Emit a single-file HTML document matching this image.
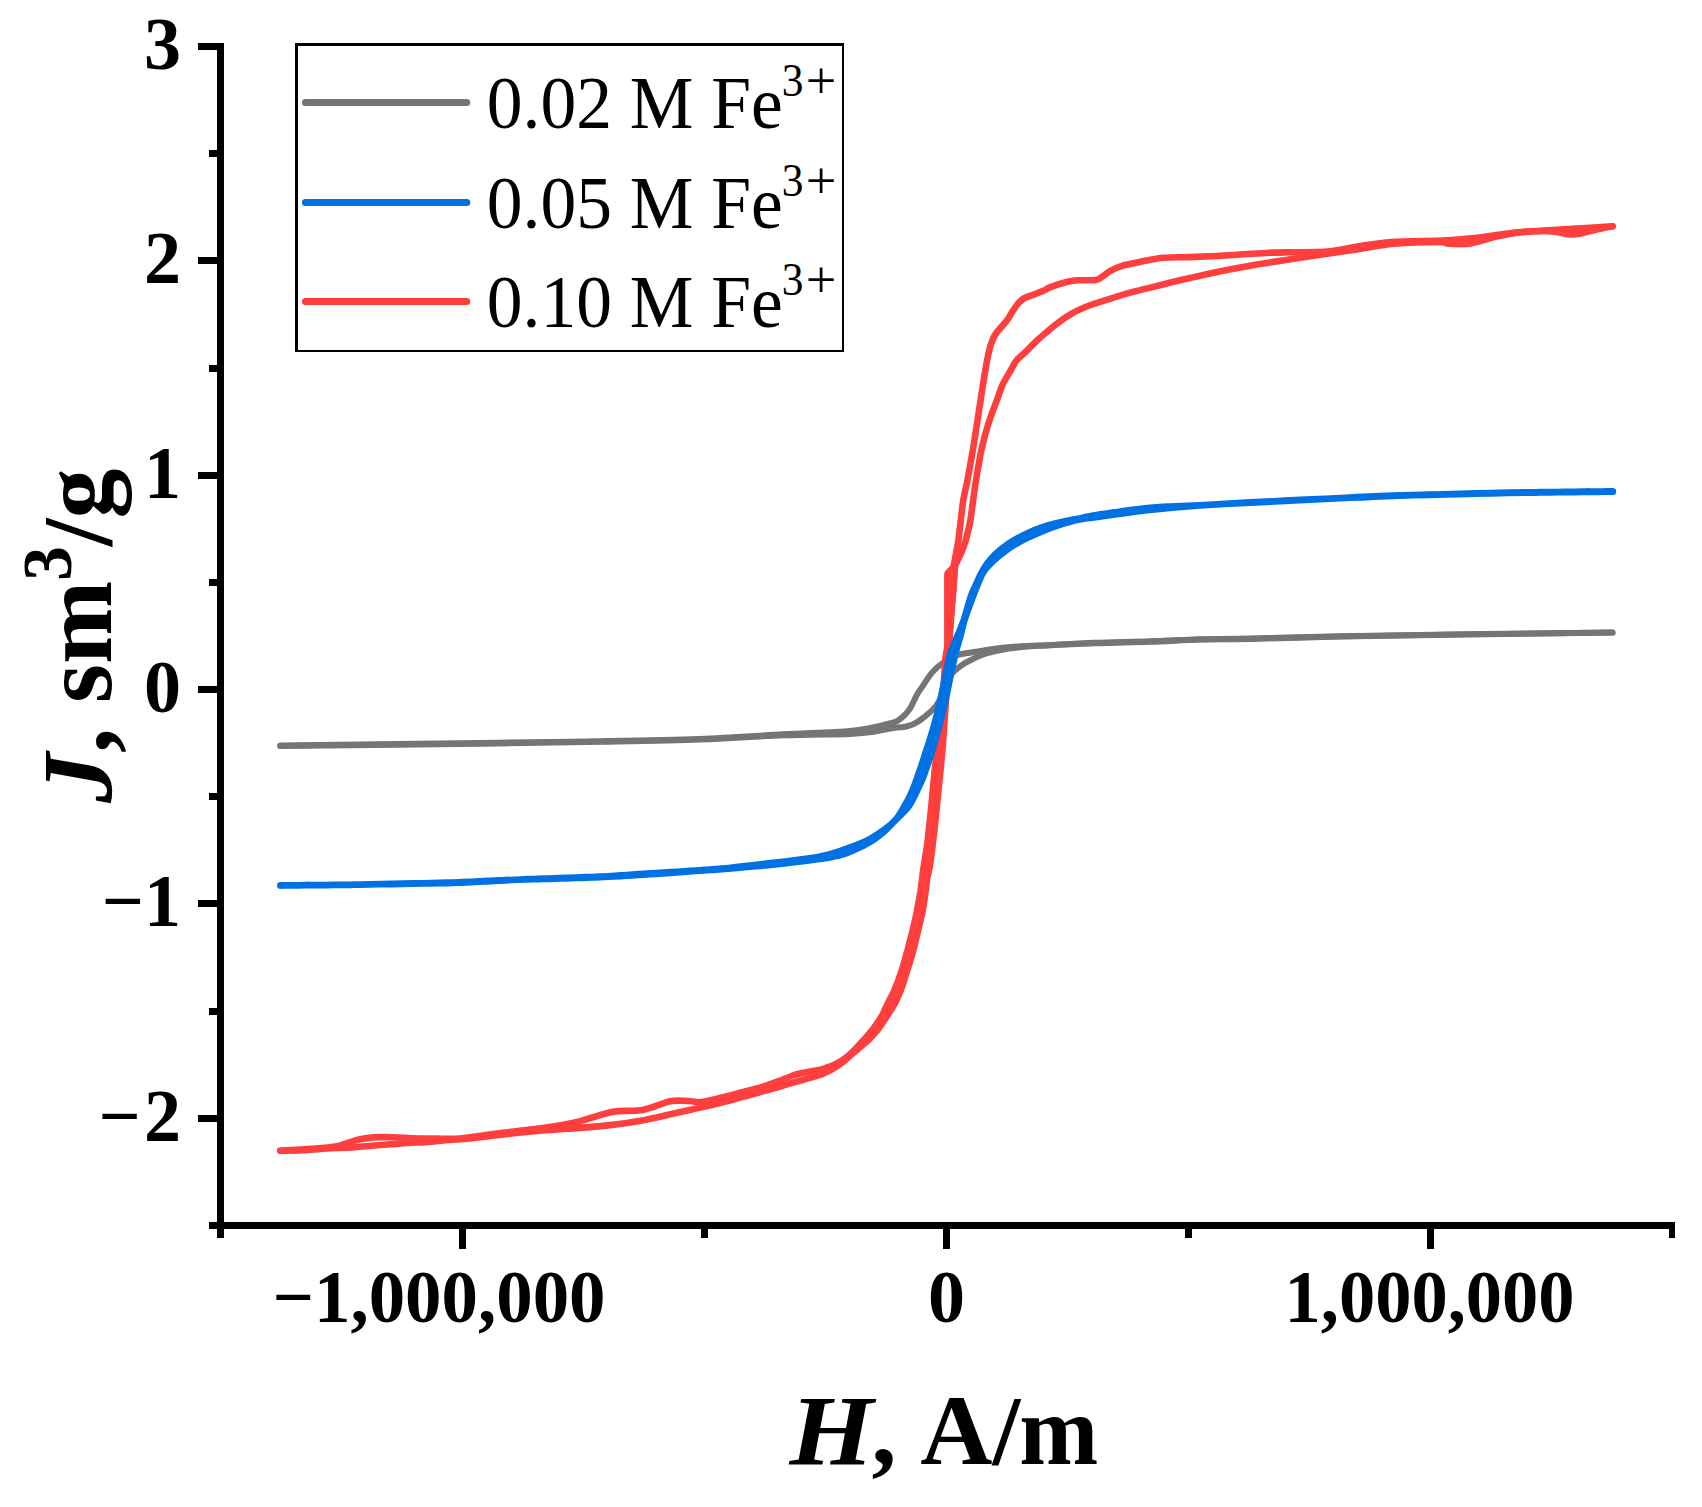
<!DOCTYPE html>
<html><head><meta charset="utf-8"><title>Magnetization curves</title>
<style>
html,body{margin:0;padding:0;background:#fff;}
svg{display:block;}
text{font-family:"Liberation Serif","Times New Roman",serif;fill:#000;}
.tk{font-size:74px;font-weight:bold;}
.ti{font-size:100px;font-weight:bold;}
.lg{font-size:74px;}
</style></head>
<body>
<svg width="1702" height="1507" viewBox="0 0 1702 1507">
<rect width="1702" height="1507" fill="#fff"/>
<!-- CURVES -->
<g id="curves" fill="none" stroke-linejoin="round" stroke-linecap="round" stroke-width="5">
<g stroke="#757575" stroke-width="6">
<path d="M280.3,745.5C316.9,745.1 446.7,743.4 500.0,742.7C553.3,742.0 566.7,741.8 600.0,741.2C633.3,740.6 669.5,740.0 700.0,738.9C730.5,737.8 758.0,735.6 783.0,734.3C808.0,733.0 834.9,732.1 850.0,730.9C865.1,729.7 866.9,728.6 873.9,727.3C880.9,726.0 887.8,724.1 891.8,723.0C895.8,721.9 895.8,721.8 897.8,720.6C899.8,719.4 901.8,717.8 903.7,716.0C905.6,714.2 907.7,711.7 909.2,709.7C910.7,707.7 911.5,705.7 912.5,703.8C913.5,701.8 914.4,699.8 915.4,697.8C916.4,695.8 917.5,693.8 918.7,691.8C920.0,689.8 921.6,687.8 922.9,685.8C924.2,683.8 925.4,681.9 926.7,679.9C928.1,677.9 929.3,675.9 931.0,673.9C932.7,671.9 934.7,669.8 936.7,667.9C938.7,666.0 941.0,664.4 943.2,662.8C945.4,661.2 947.4,659.6 950.0,658.3C952.6,656.9 954.6,655.8 958.8,654.7C963.0,653.6 969.6,652.8 975.3,651.8C981.0,650.8 987.0,649.7 992.9,648.9C998.8,648.1 1004.6,647.6 1010.5,647.1C1016.4,646.6 1023.2,646.2 1028.1,645.9C1033.0,645.6 1028.9,646.0 1040.0,645.5C1051.1,645.0 1076.2,643.5 1094.5,642.8C1112.8,642.1 1132.4,641.9 1150.0,641.3C1167.6,640.7 1183.3,639.7 1200.0,639.2C1216.7,638.8 1226.5,639.1 1250.0,638.6C1273.5,638.1 1305.5,636.9 1341.3,636.2C1377.1,635.5 1419.5,634.8 1464.7,634.2C1509.9,633.6 1587.9,632.9 1612.5,632.6"/>
<path d="M280.3,746.1C316.9,745.7 446.7,744.1 500.0,743.4C553.3,742.7 566.7,742.4 600.0,741.8C633.3,741.2 669.5,740.7 700.0,739.6C730.5,738.5 758.0,736.2 783.0,735.3C808.0,734.3 834.9,734.5 850.0,733.9C865.1,733.3 866.9,732.8 873.9,731.8C880.9,730.8 886.8,729.0 891.8,728.2C896.8,727.4 900.7,727.4 903.7,727.0C906.7,726.6 907.7,726.2 909.7,725.5C911.7,724.9 913.7,724.0 915.7,722.9C917.7,721.8 919.7,720.5 921.7,719.0C923.7,717.5 925.6,715.9 927.6,714.2C929.6,712.5 932.0,710.5 933.6,708.8C935.2,707.1 935.6,706.5 937.2,704.0C938.8,701.5 941.3,697.3 943.0,694.0C944.7,690.7 946.1,687.3 947.5,684.0C948.9,680.7 950.1,676.4 951.5,674.1C952.9,671.8 954.0,671.5 955.7,670.0C957.4,668.5 959.9,666.5 961.9,665.1C963.9,663.7 966.0,662.6 968.0,661.5C970.0,660.3 971.1,659.7 974.1,658.4C977.1,657.0 982.1,654.8 986.1,653.5C990.1,652.2 994.1,651.4 998.2,650.5C1002.3,649.7 1005.5,649.1 1010.5,648.4C1015.5,647.7 1023.2,646.8 1028.1,646.4C1033.0,646.0 1028.9,646.2 1040.0,645.7C1051.1,645.2 1076.2,643.9 1094.5,643.3C1112.8,642.6 1132.4,642.4 1150.0,641.8C1167.6,641.2 1183.3,640.0 1200.0,639.5C1216.7,639.0 1226.5,639.4 1250.0,638.9C1273.5,638.4 1305.5,637.2 1341.3,636.5C1377.1,635.8 1419.5,635.0 1464.7,634.4C1509.9,633.8 1587.9,632.9 1612.5,632.6"/>
</g>
<g stroke="#ff3e3e" stroke-width="6.6">
<path d="M280.3,1150.7C283.1,1150.6 295.9,1149.9 301.0,1149.6C306.1,1149.3 314.0,1148.8 318.8,1148.4C323.6,1148.0 332.6,1147.2 336.8,1146.3C340.9,1145.5 347.3,1143.0 350.3,1142.1C353.2,1141.1 355.7,1140.2 358.8,1139.5C361.8,1138.9 368.7,1137.7 373.3,1137.4C377.9,1137.1 387.9,1137.1 393.3,1137.2C398.8,1137.3 408.6,1138.1 414.3,1138.3C420.0,1138.5 430.3,1138.6 436.4,1138.6C442.5,1138.6 452.2,1139.1 460.1,1138.5C467.9,1137.8 484.4,1135.2 495.4,1133.8C506.4,1132.4 531.7,1129.6 542.5,1128.1C553.2,1126.5 569.2,1123.8 576.0,1122.3C582.8,1120.8 588.7,1118.4 593.8,1117.0C598.9,1115.5 607.9,1112.4 614.5,1111.5C621.0,1110.5 635.3,1111.4 642.8,1110.0C650.3,1108.7 664.5,1102.3 671.0,1101.1C677.5,1100.0 687.7,1101.0 691.5,1101.2C695.2,1101.3 695.5,1102.6 698.9,1102.3C702.3,1102.0 709.9,1100.4 717.1,1098.7C724.2,1097.0 746.6,1091.1 752.3,1089.6C758.0,1088.1 756.3,1088.9 759.8,1087.7C763.3,1086.6 774.4,1082.7 778.7,1081.1C783.1,1079.5 789.7,1076.6 792.8,1075.5C795.9,1074.4 798.7,1073.7 801.8,1073.0C804.9,1072.3 812.7,1071.1 815.9,1070.4C819.0,1069.8 823.0,1068.9 825.6,1068.0C828.2,1067.2 832.8,1065.4 835.5,1064.1C838.1,1062.7 842.8,1060.1 845.4,1058.1C848.0,1056.2 852.6,1051.9 855.1,1049.3C857.7,1046.8 862.1,1041.8 864.7,1038.9C867.2,1035.9 871.9,1030.4 874.2,1027.4C876.5,1024.3 880.6,1018.0 881.9,1015.8C883.3,1013.6 883.4,1012.8 884.3,1010.9C885.2,1009.0 887.3,1004.1 888.7,1001.5C890.0,998.8 892.4,995.0 894.1,990.9C895.9,986.8 900.0,976.0 901.7,970.6C903.5,965.3 905.9,955.9 907.4,950.6C908.8,945.2 911.3,935.9 912.6,930.6C913.9,925.2 916.0,915.9 917.0,910.5C918.1,905.2 919.9,894.5 920.6,890.5C921.2,886.5 921.5,883.1 921.9,880.4C922.2,877.7 922.4,875.5 923.2,870.3C923.9,865.0 926.5,849.8 927.6,841.0C928.7,832.2 930.5,814.2 931.5,804.4C932.5,794.7 933.8,778.5 934.9,767.9C936.0,757.4 938.6,736.6 939.8,725.3C941.0,714.1 943.1,692.0 943.8,683.3C944.5,674.6 944.7,665.0 945.2,660.0C945.7,655.0 947.0,649.6 947.6,646.0C948.2,642.4 948.9,638.0 949.4,632.7C949.9,627.4 951.0,613.1 951.6,606.0C952.2,598.9 953.4,584.9 953.8,579.6C954.2,574.3 954.4,569.5 954.7,566.0C955.0,562.5 955.7,556.5 956.2,553.0C956.7,549.5 957.9,544.2 958.5,539.8C959.1,535.4 960.2,525.3 960.8,520.0C961.4,514.7 962.4,505.3 963.3,500.0C964.2,494.7 966.2,486.7 967.5,480.0C968.8,473.3 971.5,457.7 972.9,449.7C974.2,441.7 976.6,426.5 977.6,419.9C978.6,413.3 979.7,405.6 980.6,400.0C981.5,394.4 983.3,382.5 984.1,377.6C984.9,372.7 985.9,366.9 986.6,363.0C987.3,359.1 988.8,351.8 989.7,348.4C990.6,345.0 992.8,339.5 993.7,337.4C994.6,335.3 995.5,334.1 996.5,332.7C997.5,331.3 999.8,328.9 1001.2,327.2C1002.6,325.5 1005.8,321.9 1007.3,319.9C1008.8,317.9 1010.7,314.1 1012.2,311.9C1013.7,309.7 1016.7,305.0 1018.4,303.1C1020.1,301.2 1022.3,299.2 1024.6,298.0C1026.9,296.8 1033.0,294.9 1035.6,293.9C1038.2,292.9 1041.9,291.5 1043.9,290.6C1045.9,289.7 1047.3,288.4 1050.4,287.2C1053.5,286.0 1063.7,282.7 1067.4,281.8C1071.1,280.9 1074.3,280.5 1078.1,280.3C1081.9,280.1 1092.8,280.6 1096.1,280.1C1099.4,279.6 1100.7,277.7 1102.5,276.5C1104.3,275.3 1107.5,272.6 1109.9,271.2C1112.3,269.8 1116.2,267.6 1120.5,266.3C1124.8,265.0 1136.1,262.7 1141.8,261.6C1147.5,260.5 1155.9,258.4 1163.0,257.8C1170.1,257.2 1185.0,257.3 1194.9,256.9C1204.8,256.5 1227.5,255.4 1237.4,254.8C1247.3,254.2 1262.3,253.0 1269.2,252.7C1276.1,252.4 1281.3,252.4 1289.0,252.3C1296.7,252.2 1317.5,252.4 1327.0,251.6C1336.5,250.8 1351.6,247.3 1360.5,246.0C1369.4,244.7 1383.0,242.5 1394.0,241.8C1405.0,241.1 1432.6,241.0 1443.0,240.5C1453.4,240.0 1463.7,239.3 1472.0,238.4C1480.3,237.5 1498.1,234.7 1505.6,233.8C1513.1,232.9 1519.1,232.2 1528.0,231.5C1536.9,230.8 1561.3,229.5 1572.6,228.8C1583.9,228.1 1607.3,226.6 1612.6,226.3"/>
<path d="M280.3,1150.7C283.3,1150.6 297.2,1150.4 302.5,1150.2C307.8,1150.0 315.2,1149.2 320.0,1148.9C324.8,1148.6 333.8,1148.2 338.5,1148.0C343.2,1147.8 350.9,1147.4 355.3,1147.1C359.6,1146.8 367.2,1146.1 371.0,1145.8C374.9,1145.5 380.8,1145.0 384.4,1144.7C387.9,1144.4 394.0,1144.1 397.6,1143.8C401.1,1143.5 407.2,1142.9 410.8,1142.7C414.4,1142.5 420.9,1142.4 424.8,1142.1C428.6,1141.9 435.6,1141.2 439.7,1140.8C443.8,1140.5 451.8,1139.7 455.5,1139.4C459.3,1139.1 462.7,1139.1 467.9,1138.6C473.1,1138.1 484.8,1136.5 494.6,1135.4C504.5,1134.3 531.0,1131.5 541.7,1130.5C552.4,1129.5 565.9,1128.8 575.0,1128.1C584.2,1127.4 600.8,1126.2 610.1,1125.1C619.5,1124.0 635.8,1121.6 645.2,1119.9C654.5,1118.1 670.9,1114.1 680.3,1112.0C689.7,1109.9 707.7,1106.0 715.5,1104.1C723.4,1102.2 733.5,1099.4 739.1,1097.9C744.8,1096.4 752.9,1094.1 757.9,1092.7C762.9,1091.3 771.7,1089.0 776.7,1087.5C781.7,1086.1 790.5,1083.4 795.5,1081.9C800.5,1080.5 810.5,1077.9 814.2,1076.7C818.0,1075.6 820.9,1074.6 823.3,1073.6C825.7,1072.5 829.9,1070.4 832.4,1069.0C834.8,1067.7 839.0,1065.0 841.4,1063.2C843.9,1061.3 848.2,1057.4 850.7,1055.3C853.1,1053.2 857.5,1049.5 860.0,1047.3C862.5,1045.2 866.8,1041.5 869.3,1039.1C871.7,1036.6 875.9,1032.2 878.4,1029.0C880.8,1025.8 885.4,1018.6 887.6,1015.1C889.8,1011.7 893.1,1006.7 895.0,1003.2C896.8,999.6 899.8,993.1 901.5,988.4C903.2,983.8 906.2,973.9 907.8,968.6C909.5,963.3 912.3,954.1 913.7,948.8C915.1,943.6 917.3,934.3 918.5,929.1C919.7,923.8 921.9,914.6 922.9,909.3C923.8,904.0 925.3,893.5 925.8,889.5C926.4,885.6 926.4,883.1 927.0,879.4C927.7,875.8 929.5,869.2 930.5,862.0C931.6,854.8 933.7,836.3 934.9,825.6C936.1,815.0 938.3,791.6 939.3,781.9C940.3,772.1 941.5,760.5 942.2,752.7C942.9,744.9 943.9,730.4 944.4,723.6C944.9,716.8 945.5,707.5 945.8,701.7C946.2,695.9 946.7,685.6 947.0,680.0C947.3,674.4 947.9,664.5 948.2,660.0C948.5,655.5 949.0,649.6 949.2,646.0C949.4,642.4 949.6,638.0 950.0,632.7C950.4,627.4 951.4,613.1 952.0,606.0C952.6,598.9 953.8,584.9 954.2,579.6C954.6,574.3 954.3,569.5 955.2,566.0C956.1,562.5 959.8,556.5 961.2,553.0C962.6,549.5 964.6,544.2 965.8,539.8C967.0,535.4 969.2,527.2 970.4,520.1C971.6,513.0 973.7,495.4 975.0,486.7C976.3,478.0 979.1,461.8 980.4,454.9C981.7,448.0 983.9,439.5 985.1,434.8C986.3,430.1 988.3,423.9 989.6,419.9C990.9,415.9 994.1,407.6 995.1,404.9C996.1,402.2 996.0,402.7 997.0,400.0C998.0,397.3 1000.7,388.9 1002.5,384.9C1004.3,380.9 1009.1,373.2 1010.7,370.3C1012.3,367.4 1013.6,365.0 1014.5,363.5C1015.4,362.0 1016.2,360.5 1017.7,359.0C1019.2,357.5 1023.5,353.9 1025.5,352.0C1027.5,350.1 1031.1,346.3 1033.0,344.4C1034.9,342.5 1036.9,340.5 1039.8,338.0C1042.7,335.5 1050.4,328.6 1054.7,325.3C1059.0,322.0 1067.2,316.2 1071.7,313.6C1076.2,311.0 1083.6,307.8 1088.7,305.8C1093.8,303.8 1104.2,300.6 1109.9,298.8C1115.6,297.0 1125.4,294.0 1131.1,292.4C1136.8,290.8 1146.7,288.5 1152.4,287.1C1158.1,285.7 1167.9,283.2 1173.6,281.8C1179.3,280.4 1189.2,278.2 1194.9,276.9C1200.6,275.6 1210.4,273.4 1216.1,272.2C1221.8,271.0 1231.5,269.1 1237.4,268.0C1243.3,266.9 1252.5,265.1 1260.0,263.9C1267.5,262.7 1281.6,260.6 1293.5,258.8C1305.4,257.0 1335.9,252.5 1349.3,250.5C1362.7,248.5 1382.1,244.9 1394.0,243.8C1405.9,242.7 1431.2,242.0 1438.6,242.0C1446.0,242.0 1445.6,243.6 1449.8,243.8C1454.0,244.0 1464.0,244.3 1469.9,243.4C1475.8,242.5 1488.1,238.5 1494.4,237.1C1500.7,235.7 1509.4,233.4 1516.8,232.6C1524.2,231.8 1543.4,230.9 1550.2,231.1C1557.0,231.3 1564.2,233.8 1568.1,234.2C1572.0,234.6 1575.7,234.4 1579.3,233.8C1582.9,233.2 1590.5,231.0 1594.9,230.0C1599.3,229.0 1610.2,226.8 1612.6,226.3"/>
<path d="M947.4,689.0L947.4,573.5L953.5,567.0L956.2,553.0" stroke-linejoin="bevel" stroke-linecap="butt"/>
<path d="M861.1,1045.0C862.4,1043.7 868.2,1037.7 870.5,1035.0C872.8,1032.3 876.1,1028.3 878.4,1025.0C880.7,1021.7 885.6,1014.0 887.9,1010.0C890.1,1006.0 893.5,999.0 895.3,995.0C897.0,991.0 899.5,984.7 901.2,980.0C902.8,975.3 906.0,965.3 907.6,960.0C909.1,954.7 911.6,945.3 913.0,940.0C914.3,934.7 916.6,925.3 917.7,920.0C918.9,914.7 920.7,905.3 921.6,900.0C922.5,894.7 923.6,885.3 924.5,880.0C925.3,874.7 926.9,865.3 927.7,860.0C928.5,854.7 929.8,845.3 930.4,840.0C931.1,834.7 932.1,825.3 932.7,820.0C933.2,814.7 934.2,805.3 934.7,800.0C935.2,794.7 936.1,785.3 936.6,780.0C937.2,774.7 938.1,765.3 938.6,760.0C939.2,754.7 940.1,745.3 940.6,740.0C941.1,734.7 942.0,725.1 942.5,720.0C942.9,714.9 943.7,704.4 943.9,702.0"/>
<path d="M947.4,571L953.5,565L955,576L951.5,610L949.2,640L947.4,662Z" fill="#ff3e3e" stroke="none"/>
</g>
<g fill="#0071e3" stroke="none">
<path d="M280.5,882.0C293.8,881.9 333.4,881.6 360.0,881.2C386.6,880.8 420.0,880.1 440.0,879.6C460.0,879.1 466.7,878.7 480.0,878.1C493.3,877.5 500.0,877.0 520.0,876.2C540.0,875.4 578.3,874.3 600.0,873.3C621.7,872.3 633.3,871.1 650.0,870.0C666.7,868.9 688.5,867.6 700.0,866.9C711.5,866.2 712.5,866.2 718.8,865.6C725.1,865.0 731.3,864.1 737.6,863.4C743.9,862.7 750.1,862.1 756.4,861.4C762.7,860.7 768.9,860.0 775.2,859.3C781.5,858.6 787.7,857.9 794.0,857.1C800.3,856.3 806.5,855.7 812.8,854.6C819.1,853.5 826.1,851.8 831.6,850.3C837.1,848.8 840.7,847.4 845.7,845.6C850.8,843.8 857.2,841.4 861.9,839.3C866.6,837.1 869.9,835.2 873.9,832.7C877.9,830.2 882.3,827.2 885.8,824.3C889.3,821.4 892.3,818.5 894.8,815.4C897.3,812.3 898.8,809.2 900.8,805.8C902.8,802.4 904.9,798.8 906.7,795.1C908.5,791.4 910.0,787.6 911.5,783.7C913.0,779.8 914.0,776.9 915.7,771.8C917.5,766.7 919.6,760.6 922.0,753.1C924.4,745.6 927.8,735.4 930.3,726.5C932.8,717.6 935.0,708.9 937.0,700.0C939.0,691.1 941.3,679.6 942.6,673.1C943.9,666.6 944.2,664.5 945.0,661.0C945.8,657.5 946.0,655.7 947.3,651.9C948.6,648.1 950.8,643.3 953.0,638.0C955.2,632.7 958.9,623.6 960.3,620.0C961.7,616.4 960.3,620.3 961.6,616.1C962.9,611.9 965.8,600.8 967.9,594.8C970.0,588.8 972.2,584.5 974.4,579.9C976.6,575.2 978.3,571.1 980.9,566.9C983.5,562.7 987.0,558.4 990.2,554.8C993.5,551.2 996.7,548.4 1000.4,545.5C1004.1,542.6 1007.9,539.9 1012.5,537.2C1017.1,534.5 1022.6,531.8 1028.3,529.3C1034.0,526.8 1040.6,524.2 1046.8,522.3C1053.0,520.4 1059.9,518.9 1065.4,517.7C1070.9,516.5 1074.2,516.0 1080.0,514.9C1085.8,513.8 1088.3,512.9 1100.0,511.1C1111.7,509.4 1133.3,505.9 1150.0,504.4C1166.7,502.9 1183.3,502.8 1200.0,501.9C1216.7,501.0 1233.3,500.0 1250.0,499.1C1266.7,498.3 1283.3,497.5 1300.0,496.6C1316.7,495.8 1333.3,495.0 1350.0,494.2C1366.7,493.5 1381.7,492.7 1400.0,492.1C1418.3,491.4 1438.3,491.0 1460.0,490.4C1481.7,489.9 1504.5,489.4 1530.0,488.9C1555.5,488.5 1598.9,488.1 1612.7,487.9L1612.7,494.9C1598.9,495.1 1555.5,495.4 1530.0,495.9C1504.5,496.3 1481.7,496.8 1460.0,497.4C1438.3,497.9 1418.3,498.3 1400.0,498.9C1381.7,499.6 1366.7,500.4 1350.0,501.1C1333.3,501.9 1316.7,502.7 1300.0,503.6C1283.3,504.4 1266.7,505.2 1250.0,506.1C1233.3,506.9 1216.7,507.6 1200.0,508.8C1183.3,510.0 1166.7,511.4 1150.0,513.3C1133.3,515.1 1111.7,518.3 1100.0,519.9C1088.3,521.5 1086.5,521.5 1080.0,522.8C1073.5,524.1 1066.3,526.2 1060.8,527.9C1055.3,529.6 1051.4,531.1 1046.8,533.0C1042.2,534.9 1037.4,536.9 1032.9,539.0C1028.4,541.1 1024.2,543.0 1019.9,545.5C1015.6,548.0 1010.9,550.9 1006.9,553.9C1002.9,556.9 999.1,560.0 995.7,563.2C992.3,566.5 989.0,569.7 986.5,573.4C984.0,577.1 982.9,580.7 980.9,585.5C978.9,590.3 976.5,596.5 974.4,602.2C972.2,608.0 969.9,614.0 968.0,620.0C966.1,626.0 964.8,632.7 963.3,638.0C961.8,643.3 960.8,646.0 959.3,651.9C957.8,657.8 956.2,665.1 954.5,673.1C952.8,681.1 951.0,691.1 949.0,700.0C947.0,708.9 944.8,717.6 942.5,726.5C940.2,735.4 937.7,744.4 935.0,753.1C932.3,761.8 928.4,772.6 926.2,778.5C924.0,784.4 923.5,784.7 921.7,788.5C920.0,792.3 917.7,797.4 915.7,801.1C913.7,804.8 912.7,807.0 909.7,810.6C906.7,814.2 901.8,818.6 897.8,822.6C893.8,826.6 889.8,831.0 885.8,834.5C881.8,838.0 877.9,840.9 873.9,843.5C869.9,846.1 866.6,847.7 861.9,850.0C857.2,852.3 850.8,855.4 845.7,857.1C840.7,858.8 837.1,859.4 831.6,860.4C826.1,861.4 819.1,862.3 812.8,863.2C806.5,864.1 800.3,864.8 794.0,865.6C787.7,866.4 781.5,867.1 775.2,867.8C768.9,868.5 762.7,869.0 756.4,869.6C750.1,870.2 743.9,870.7 737.6,871.2C731.3,871.7 725.1,872.3 718.8,872.8C712.5,873.3 711.5,873.2 700.0,874.0C688.5,874.8 666.7,876.5 650.0,877.6C633.3,878.7 621.7,879.6 600.0,880.5C578.3,881.4 540.0,882.3 520.0,883.0C500.0,883.7 493.3,884.3 480.0,884.9C466.7,885.5 460.0,886.1 440.0,886.6C420.0,887.1 386.6,887.6 360.0,888.0C333.4,888.4 293.8,888.7 280.5,888.8Z"/>
<circle cx="280.4" cy="885.4" r="3.4"/><circle cx="1612.7" cy="491.45" r="3.5"/>
</g>
</g>
<!-- AXES -->
<g fill="#000" shape-rendering="crispEdges">
<rect x="217" y="43" width="7" height="1195"/>
<rect x="209" y="1222" width="1466" height="7"/>
<!-- y major -->
<rect x="198" y="43" width="20" height="7"/>
<rect x="198" y="257" width="20" height="7"/>
<rect x="198" y="472" width="20" height="7"/>
<rect x="198" y="686" width="20" height="7"/>
<rect x="198" y="900" width="20" height="7"/>
<rect x="198" y="1115" width="20" height="7"/>
<!-- y minor -->
<rect x="209" y="150" width="9" height="7"/>
<rect x="209" y="365" width="9" height="7"/>
<rect x="209" y="579" width="9" height="7"/>
<rect x="209" y="793" width="9" height="7"/>
<rect x="209" y="1008" width="9" height="7"/>
<!-- x major -->
<rect x="459" y="1228" width="7" height="21"/>
<rect x="943" y="1228" width="7" height="21"/>
<rect x="1427" y="1228" width="7" height="21"/>
<!-- x minor -->
<rect x="701" y="1228" width="7" height="10"/>
<rect x="1185" y="1228" width="7" height="10"/>
<rect x="1669" y="1228" width="6" height="10"/>
</g>
<!-- TICK LABELS -->
<g class="tk" text-anchor="end">
<text x="181" y="69.1">3</text>
<text x="181" y="283.1">2</text>
<text x="181" y="498.1">1</text>
<text x="181" y="712.1">0</text>
<text x="181" y="926.1">−1</text>
<text x="181" y="1141.1" textLength="82.4" lengthAdjust="spacing">−2</text>
</g>
<g class="tk" text-anchor="middle">
<text x="272.5" y="1322.3" text-anchor="start" textLength="333" lengthAdjust="spacingAndGlyphs">−1,000,000</text>
<text x="946.5" y="1322.3">0</text>
<text x="1284.5" y="1322.3" text-anchor="start" textLength="290" lengthAdjust="spacingAndGlyphs">1,000,000</text>
</g>
<!-- TITLES -->
<text class="ti" y="1464"><tspan x="789.6" font-style="italic" textLength="84" lengthAdjust="spacingAndGlyphs">H</tspan><tspan x="871.6">, </tspan><tspan x="920.2">A/</tspan><tspan x="1019.2" textLength="79" lengthAdjust="spacingAndGlyphs">m</tspan></text>
<text class="ti" transform="translate(111,803) rotate(-90)"><tspan font-style="italic">J</tspan>, sm<tspan font-size="69" dy="-40">3</tspan><tspan dy="40">/g</tspan></text>
<!-- LEGEND -->
<rect x="295" y="43" width="549" height="309" fill="#fff"/>
<g fill="#000" shape-rendering="crispEdges"><rect x="295" y="43" width="3" height="309"/><rect x="295" y="43" width="549" height="3"/><rect x="842" y="43" width="2" height="309"/><rect x="295" y="350" width="549" height="2"/></g>
<g stroke-width="7" stroke-linecap="round">
<line x1="305.4" y1="102.4" x2="466.8" y2="102.4" stroke="#757575"/>
<line x1="305.4" y1="202.4" x2="466.8" y2="202.4" stroke="#0071e3"/>
<line x1="305.4" y1="301.5" x2="466.8" y2="301.5" stroke="#ff3e3e"/>
</g>
<g class="lg">
<text y="128"><tspan x="486.8" textLength="296" lengthAdjust="spacingAndGlyphs">0.02 M Fe</tspan><tspan x="781.8" y="96.2" font-size="47" textLength="21.7" lengthAdjust="spacingAndGlyphs">3</tspan><tspan x="805.7" y="98" font-size="52" textLength="30.7" lengthAdjust="spacingAndGlyphs">+</tspan></text>
<text y="227.5"><tspan x="486.8" textLength="296" lengthAdjust="spacingAndGlyphs">0.05 M Fe</tspan><tspan x="781.8" y="195.7" font-size="47" textLength="21.7" lengthAdjust="spacingAndGlyphs">3</tspan><tspan x="805.7" y="197.5" font-size="52" textLength="30.7" lengthAdjust="spacingAndGlyphs">+</tspan></text>
<text y="327"><tspan x="486.8" textLength="296" lengthAdjust="spacingAndGlyphs">0.10 M Fe</tspan><tspan x="781.8" y="295.2" font-size="47" textLength="21.7" lengthAdjust="spacingAndGlyphs">3</tspan><tspan x="805.7" y="297" font-size="52" textLength="30.7" lengthAdjust="spacingAndGlyphs">+</tspan></text>
</g>
</svg>
</body></html>
